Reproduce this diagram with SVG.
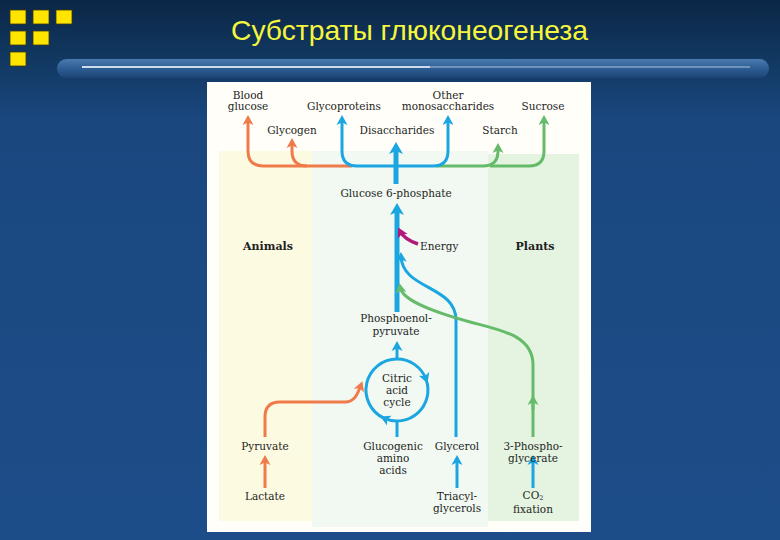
<svg xmlns="http://www.w3.org/2000/svg" width="780" height="540" viewBox="0 0 780 540">
<defs>
<linearGradient id="bg" x1="0" y1="0" x2="0" y2="1">
<stop offset="0" stop-color="#0b2646"/>
<stop offset="0.1" stop-color="#11375f"/>
<stop offset="0.22" stop-color="#1a477e"/>
<stop offset="1" stop-color="#1d4d89"/>
</linearGradient>
<linearGradient id="bar" x1="0" y1="0" x2="0" y2="1">
<stop offset="0" stop-color="#4a7bb0"/>
<stop offset="0.5" stop-color="#2d5d93"/>
<stop offset="1" stop-color="#1c4575"/>
</linearGradient>
<marker id="ao" viewBox="-7 -7 12 14" markerWidth="12" markerHeight="14" refX="0" refY="0" orient="auto" markerUnits="userSpaceOnUse"><path d="M4,0 L-6,-5.5 L-3.5,0 L-6,5.5Z" fill="#ef7b4a"/></marker>
<marker id="ab" viewBox="-7 -7 12 14" markerWidth="12" markerHeight="14" refX="0" refY="0" orient="auto" markerUnits="userSpaceOnUse"><path d="M4,0 L-6,-5.5 L-3.5,0 L-6,5.5Z" fill="#1ba6e2"/></marker>
<marker id="ag" viewBox="-7 -7 12 14" markerWidth="12" markerHeight="14" refX="0" refY="0" orient="auto" markerUnits="userSpaceOnUse"><path d="M4,0 L-6,-5.5 L-3.5,0 L-6,5.5Z" fill="#66bb6a"/></marker>
<marker id="am" viewBox="-7 -7 12 14" markerWidth="12" markerHeight="14" refX="0" refY="0" orient="auto" markerUnits="userSpaceOnUse"><path d="M4,0 L-6,-5.5 L-3.5,0 L-6,5.5Z" fill="#b01a78"/></marker>
<marker id="aB" viewBox="-8 -8 14 16" markerWidth="14" markerHeight="16" refX="0" refY="0" orient="auto" markerUnits="userSpaceOnUse"><path d="M5,0 L-7,-7 L-4,0 L-7,7Z" fill="#1ba6e2"/></marker>
</defs>
<style>
.t{font-family:"DejaVu Serif","Liberation Serif",serif;font-size:10.5px;fill:#1e1e1e;text-anchor:middle}
.b{font-weight:bold;font-size:11px}
.s{text-anchor:start}
.o{fill:none;stroke:#ef7b4a;stroke-width:3}
.bl{fill:none;stroke:#1ba6e2;stroke-width:3}
.bm{fill:none;stroke:#1ba6e2;stroke-width:5}
.g{fill:none;stroke:#66bb6a;stroke-width:3}
.m{fill:none;stroke:#b01a78;stroke-width:3.5}
.sq{fill:#ffe400;stroke:#3a3a10;stroke-width:0.8}
</style>
<rect width="780" height="540" fill="url(#bg)"/>
<g id="squares">
<rect class="sq" x="10" y="10" width="16" height="14"/>
<rect class="sq" x="33" y="10" width="16" height="14"/>
<rect class="sq" x="56" y="10" width="16" height="14"/>
<rect class="sq" x="10" y="31" width="16" height="14"/>
<rect class="sq" x="33" y="31" width="16" height="14"/>
<rect class="sq" x="10" y="52" width="16" height="14"/>
</g>
<text id="title" x="231" y="40" textLength="357" lengthAdjust="spacingAndGlyphs" font-family="Liberation Sans, Arial, sans-serif" font-size="28" fill="#f6f63c">Субстраты глюконеогенеза</text>
<g id="titlebar">
<rect x="57" y="59" width="712" height="19" rx="9.5" fill="url(#bar)"/>
<line x1="82" y1="67" x2="750" y2="67" stroke="#a9c4e0" stroke-width="1.2"/>
<line x1="82" y1="67" x2="430" y2="67" stroke="#eef4fb" stroke-width="1.4"/>
</g>
<g id="panel">
<rect x="207" y="82" width="384" height="450" fill="#fffef9"/>
<rect x="219" y="151" width="93" height="370" fill="#fcfae1"/>
<rect x="312" y="151" width="176" height="376" fill="#f1f9f2"/>
<rect x="488" y="154" width="91" height="367" fill="#e4f4e1"/>
</g>
<g id="connectors">
<path class="o" d="M352,166 L263,166 Q248,166 248,151 L248,119" marker-end="url(#ao)"/>
<path class="o" d="M307,166 Q292,166 292,151 L292,142" marker-end="url(#ao)"/>
<path class="g" d="M436,166 L483,166 Q498,166 498,151 L498,147" marker-end="url(#ag)"/>
<path class="g" d="M490,166 L529,166 Q544,166 544,151 L544,119" marker-end="url(#ag)"/>
<path class="bl" d="M395,166 L357,166 Q342,166 342,151 L342,119" marker-end="url(#ab)"/>
<path class="bl" d="M395,166 L433,166 Q448,166 448,151 L448,119" marker-end="url(#ab)"/>
<path class="bm" d="M396,184 L396,147" marker-end="url(#aB)"/>
<path class="bm" d="M397,312 L397,208" marker-end="url(#aB)"/>
<path class="m" d="M418,244 C409,241 403,237 400,231" marker-end="url(#am)"/>
<path class="bl" d="M456,437 L456,320 C456,285 402,290 401,256" marker-end="url(#ab)"/>
<path class="g" d="M533,437 L533,365 C533,335 500,330 470,322 C430,311 402,300 400,287" marker-end="url(#ag)"/>
<path class="g" d="M533,410 L533,399" marker-end="url(#ag)"/>
<path class="bl" d="M397,358 L397,345" marker-end="url(#ab)"/>
<path class="bl" d="M397,359 A31,31 0 0 1 426.1,379.4" marker-end="url(#ab)"/>
<path class="bl" d="M426.1,379.4 A31,31 0 0 1 383.9,418.1" marker-end="url(#ab)"/>
<path class="bl" d="M383.9,418.1 A31,31 0 0 1 397,359"/>
<path class="bl" d="M397,437 L397,420"/>
<path class="o" d="M265,437 L265,417 Q265,402 280,402 L345,402 C355,402 358,393 361,385" marker-end="url(#ao)"/>
<path class="o" d="M265,488 L265,459" marker-end="url(#ao)"/>
<path class="bl" d="M457,488 L457,459" marker-end="url(#ab)"/>
<path class="bl" d="M533,488 L533,459" marker-end="url(#ab)"/>
</g>
<g id="blood-glucose"><text class="t" x="248" y="98.5">Blood</text><text class="t" x="248" y="109.5">glucose</text></g>
<g id="glycoproteins"><text class="t" x="344" y="109.5">Glycoproteins</text></g>
<g id="other-mono"><text class="t" x="448" y="98.5">Other</text><text class="t" x="448" y="109.5">monosaccharides</text></g>
<g id="sucrose"><text class="t" x="543" y="109.5">Sucrose</text></g>
<g id="glycogen"><text class="t" x="292" y="133.5">Glycogen</text></g>
<g id="disaccharides"><text class="t" x="397" y="133.5">Disaccharides</text></g>
<g id="starch"><text class="t" x="500" y="133.5">Starch</text></g>
<g id="g6p"><text class="t" x="396" y="196.5">Glucose 6-phosphate</text></g>
<g id="energy"><text class="t s" x="420" y="249.5">Energy</text></g>
<g id="animals"><text class="t b" x="268" y="249.5">Animals</text></g>
<g id="plants"><text class="t b" x="535" y="249.5">Plants</text></g>
<g id="pep"><text class="t" x="396" y="321.5">Phosphoenol-</text><text class="t" x="396" y="334.5">pyruvate</text></g>
<g id="citric"><text class="t" x="397" y="381.5">Citric</text><text class="t" x="397" y="393.5">acid</text><text class="t" x="397" y="405.5">cycle</text></g>
<g id="pyruvate"><text class="t" x="265" y="449.5">Pyruvate</text></g>
<g id="glucogenic"><text class="t" x="393" y="449.5">Glucogenic</text><text class="t" x="393" y="461.5">amino</text><text class="t" x="393" y="473.5">acids</text></g>
<g id="glycerol"><text class="t" x="457" y="449.5">Glycerol</text></g>
<g id="phosphoglycerate"><text class="t" x="533" y="449.5">3-Phospho-</text><text class="t" x="533" y="461.5">glycerate</text></g>
<g id="lactate"><text class="t" x="265" y="499.5">Lactate</text></g>
<g id="triacylglycerols"><text class="t" x="457" y="499.5">Triacyl-</text><text class="t" x="457" y="512">glycerols</text></g>
<g id="co2"><text class="t" x="533" y="498.5">CO<tspan font-size="6.5" dy="1.5">2</tspan></text><text class="t" x="533" y="512.5">fixation</text></g>
</svg>
